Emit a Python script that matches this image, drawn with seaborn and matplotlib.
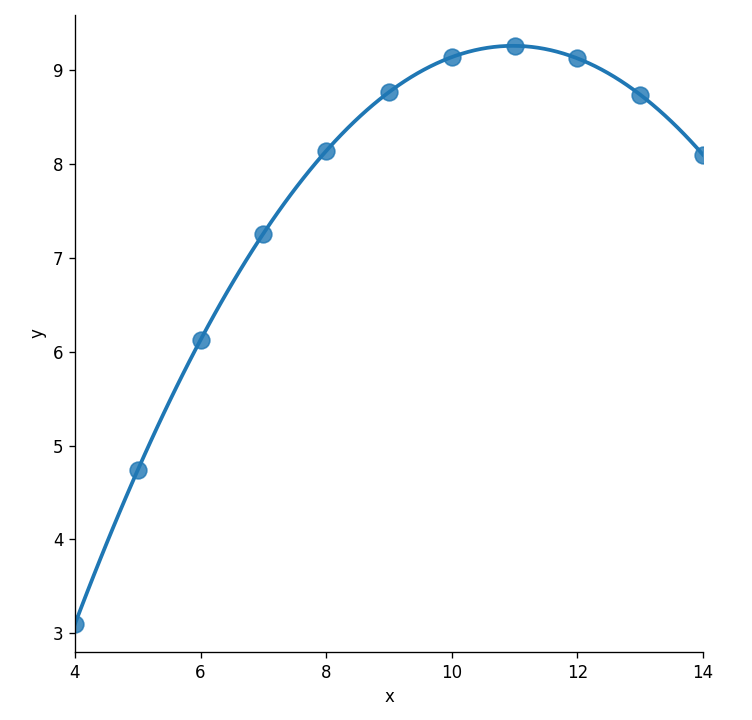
import numpy as np
import pandas as pd
import matplotlib
matplotlib.use("Agg")
import matplotlib.pyplot as plt
import seaborn as sns

# Anscombe quartet, dataset II
x = [10.0, 8.0, 13.0, 9.0, 11.0, 14.0, 6.0, 4.0, 12.0, 7.0, 5.0]
y = [9.14, 8.14, 8.74, 8.77, 9.26, 8.10, 6.13, 3.10, 9.13, 7.26, 4.74]

df = pd.DataFrame({"x": x, "y": y})

g = sns.lmplot(x="x", y="y", data=df, order=2, ci=None,
               scatter_kws={"s": 100}, height=5, aspect=752 / 720)
g.figure.set_size_inches(752 / 120, 720 / 120)
g.ax.set_xlim(4, 14)
g.ax.set_ylim(2.8, 9.59)
g.figure.subplots_adjust(left=75 / 752, right=703 / 752,
                         top=1 - 15 / 720, bottom=1 - 652 / 720)
g.figure.savefig("out.png", dpi=120)
